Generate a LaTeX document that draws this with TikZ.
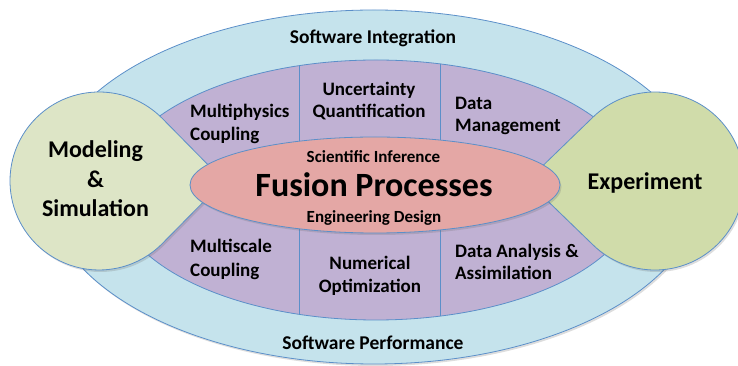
\documentclass[tikz,border=0pt]{standalone}
\usepackage{fontspec}
\setmainfont{Carlito}
\usetikzlibrary{calc,shadows}
\definecolor{skyfill}{HTML}{C5E3EC}
\definecolor{edgeblue}{HTML}{5B8FC9}
\definecolor{purplefill}{HTML}{C0B1D3}
\definecolor{pinkfill}{HTML}{E4A7A5}
\definecolor{greenL}{HTML}{DDE5C6}
\definecolor{greenR}{HTML}{D0DCAA}
\tikzset{
  region/.style={draw=edgeblue, line width=0.8pt},
  softshadow/.style={drop shadow={shadow xshift=1.5pt, shadow yshift=-2pt, opacity=0.22, fill=black!60}},
  ln/.style={font=\bfseries\fontsize{19}{22}\selectfont, inner sep=0pt, anchor=base},
  lnw/.style={ln, anchor=base west},
  ring/.style={font=\bfseries\fontsize{19.5}{22}\selectfont, inner sep=0pt, anchor=base},
  sub/.style={font=\bfseries\fontsize{17}{20}\selectfont, inner sep=0pt, anchor=base},
  big/.style={font=\bfseries\fontsize{24}{28}\selectfont, inner sep=0pt, anchor=base},
}
\begin{document}
\begin{tikzpicture}[x=1pt,y=1pt]
\useasboundingbox (0,0) rectangle (738,366);
\clip (0,0) rectangle (738,366);
% outer ring
\draw[region, fill=skyfill, softshadow] (374,179) ellipse [x radius=328, y radius=177];
% purple ring
\draw[region, fill=purplefill] (376,176) ellipse [x radius=263, y radius=130];
\begin{scope}
  \clip (376,176) ellipse [x radius=263, y radius=130];
  \coordinate (d1t) at (299,320); \coordinate (d1b) at (299,30);
  \coordinate (d2t) at (440,320); \coordinate (d2b) at (440,30);
  \draw[edgeblue, line width=1pt] (d1t) -- (d1b);
  \draw[edgeblue, line width=1pt] (d2t) -- (d2b);
\end{scope}
% green teardrops
\draw[region, fill=greenL, softshadow] (224,185) -- ($(99,185)+(44.6:89)$) arc[start angle=44.6, end angle=315.4, radius=89] -- cycle;
\draw[region, fill=greenR, softshadow] (527,185) -- ($(655,185)+(134:89)$) arc[start angle=134, end angle=-134, radius=89] -- cycle;
% center ellipse
\draw[region, fill=pinkfill, softshadow] (375,181) ellipse [x radius=185, y radius=48];
% texts
\node[ring] (si) at (373,322) {Software Integration};
\node[ring] (sp) at (373,16) {Software Performance};
\node[inner sep=0pt, anchor=base, font=\bfseries\fontsize{34}{36}\selectfont] (fp) at (374,169) {Fusion Processes};
\node[sub] (sci) at (373.5,203) {Scientific Inference};
\node[sub] (eng) at (374,143) {Engineering Design};
\node[big] (ms1) at (95.5,208) {Modeling};
\node[big] (ms2) at (95.5,178) {\&};
\node[big] (ms3) at (95.5,149) {Simulation};
\node[big] (ex) at (645,176) {Experiment};
\node[lnw] (mp1) at (190,248) {Multiphysics};
\node[lnw] (mp2) at (190,225) {Coupling};
\node[ln] (uq1) at (369,270) {Uncertainty};
\node[ln] (uq2) at (369,248) {Quantification};
\node[lnw] (dm1) at (455,256) {Data};
\node[lnw] (dm2) at (455,234) {Management};
\node[lnw] (mc1) at (190,113) {Multiscale};
\node[lnw] (mc2) at (190,89.5) {Coupling};
\node[ln] (no1) at (370,96) {Numerical};
\node[ln] (no2) at (370,73) {Optimization};
\node[lnw] (da1) at (455,108) {Data Analysis \&};
\node[lnw] (da2) at (455,86) {Assimilation};
\end{tikzpicture}
\end{document}
